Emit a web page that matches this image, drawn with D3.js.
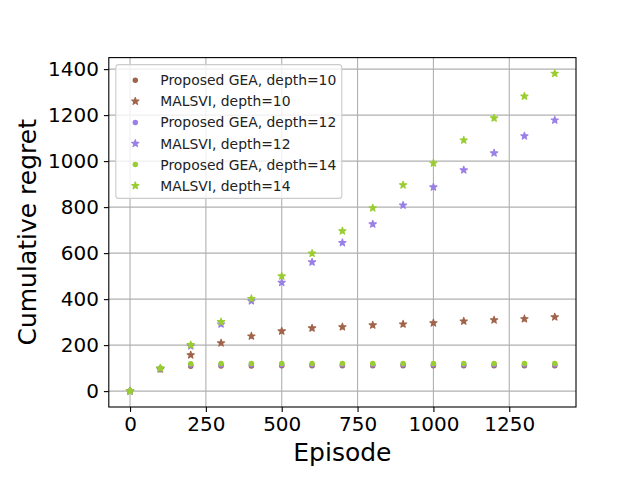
<!DOCTYPE html>
<html>
<head>
<meta charset="utf-8">
<script src="https://cdn.jsdelivr.net/npm/d3@7"></script>
<style>
  body { margin: 0; background: #fff; }
  text { font-family: "DejaVu Sans", sans-serif; }
</style>
</head>
<body>
<div id="chart"></div>
<script>
// datos
const episodes = [0, 100, 200, 300, 400, 500, 600, 700, 800, 900, 1000, 1100, 1200, 1300, 1400]
const geaDepth10 = [0, 93, 108, 109, 109, 110, 110, 110, 110, 110, 110, 110, 110, 110, 110]
const malsviDepth10 = [0, 96, 157, 209, 239, 261, 274, 279, 287, 291, 296, 304, 309, 314, 322]
const geaDepth12 = [0, 96, 114, 114, 115, 115, 115, 115, 115, 115, 115, 115, 115, 115, 115]
const malsviDepth12 = [0, 98, 196, 291, 392, 472, 561, 645, 726, 808, 887, 961, 1035, 1109, 1178]
const geaDepth14 = [0, 99, 119, 120, 120, 120, 120, 120, 120, 120, 120, 120, 120, 120, 120]
const malsviDepth14 = [0, 100, 201, 301, 402, 500, 599, 696, 796, 896, 991, 1091, 1187, 1282, 1381]
const seriesNames = [
  "Proposed GEA, depth=10", "MALSVI, depth=10",
  "Proposed GEA, depth=12", "MALSVI, depth=12",
  "Proposed GEA, depth=14", "MALSVI, depth=14"
]
const xTicks = [0, 250, 500, 750, 1000, 1250]
const yTicks = [0, 200, 400, 600, 800, 1000, 1200, 1400]

const series = [
  { name: seriesNames[0], values: geaDepth10, color: "#a0644a", marker: "dot" },
  { name: seriesNames[1], values: malsviDepth10, color: "#a0644a", marker: "star" },
  { name: seriesNames[2], values: geaDepth12, color: "#9a80e6", marker: "dot" },
  { name: seriesNames[3], values: malsviDepth12, color: "#9a80e6", marker: "star" },
  { name: seriesNames[4], values: geaDepth14, color: "#9acd32", marker: "dot" },
  { name: seriesNames[5], values: malsviDepth14, color: "#9acd32", marker: "star" }
]

const width = 640, height = 480
const plotLeft = 108.8, plotRight = 576, plotTop = 57.6, plotBottom = 407

const svg = d3.select("#chart")
  .append("svg")
  .attr("width", width)
  .attr("height", height)

// Escalas (margen 5% como matplotlib)
const xMin = d3.min(episodes), xMax = d3.max(episodes)
const allY = series.flatMap(s => s.values)
const yMin = d3.min(allY), yMax = d3.max(allY)
const x = d3.scaleLinear()
  .domain([xMin - (xMax - xMin) * 0.05, xMax + (xMax - xMin) * 0.05])
  .range([plotLeft, plotRight])
const y = d3.scaleLinear()
  .domain([yMin - (yMax - yMin) * 0.05, yMax + (yMax - yMin) * 0.05])
  .range([plotBottom, plotTop])

// grid
const grid = svg.append("g")
grid.selectAll("line.gx").data(xTicks).enter().append("line")
  .attr("x1", d => x(d)).attr("x2", d => x(d))
  .attr("y1", plotTop).attr("y2", plotBottom)
  .attr("stroke", "#b0b0b0").attr("stroke-width", 1.1)
grid.selectAll("line.gy").data(yTicks).enter().append("line")
  .attr("y1", d => y(d)).attr("y2", d => y(d))
  .attr("x1", plotLeft).attr("x2", plotRight)
  .attr("stroke", "#b0b0b0").attr("stroke-width", 1.1)

// ejes
const xAxis = svg.append("g")
  .attr("transform", `translate(0, ${plotBottom})`)
  .call(d3.axisBottom(x).tickValues(xTicks).tickSize(4.9).tickPadding(4.9).tickFormat(d3.format("d")))
const yAxis = svg.append("g")
  .attr("transform", `translate(${plotLeft}, 0)`)
  .call(d3.axisLeft(y).tickValues(yTicks).tickSize(4.9).tickPadding(4.9).tickFormat(d3.format("d")))
;[xAxis, yAxis].forEach(a => {
  a.select(".domain").remove()
  a.selectAll(".tick line").attr("stroke", "#000").attr("stroke-width", 1.1)
  a.selectAll(".tick text").attr("fill", "#000").style("font-size", "20px").style("font-family", "DejaVu Sans")
})

// marco
svg.append("rect")
  .attr("x", plotLeft).attr("y", plotTop)
  .attr("width", plotRight - plotLeft).attr("height", plotBottom - plotTop)
  .attr("fill", "none").attr("stroke", "#000").attr("stroke-width", 1.1)

// marcadores
const starPath = d3.symbol(d3.symbolStar, 16)
function drawMarker(g, s, cx, cy) {
  if (s.marker === "star") {
    g.append("path")
      .attr("d", starPath())
      .attr("transform", `translate(${cx}, ${cy})`)
      .attr("fill", s.color).attr("stroke", s.color).attr("stroke-width", 1.2)
      .attr("stroke-linejoin", "round")
  } else {
    g.append("circle")
      .attr("cx", cx).attr("cy", cy).attr("r", 2.1)
      .attr("fill", s.color).attr("stroke", s.color).attr("stroke-width", 1.3)
  }
}

const points = svg.append("g")
series.forEach(s => {
  const g = points.append("g")
  s.values.forEach((v, i) => drawMarker(g, s, x(episodes[i]), y(v)))
})

// leyenda
const legX = plotLeft + 7, legY = plotTop + 7
const rowH = 21.1
const legend = svg.append("g")
legend.append("rect")
  .attr("x", legX).attr("y", legY)
  .attr("width", 226).attr("height", 5.6 * 2 + rowH * series.length - 7 + 3)
  .attr("rx", 3)
  .attr("fill", "#fff").attr("fill-opacity", 0.8)
  .attr("stroke", "#cccccc").attr("stroke-width", 1.1)
series.forEach((s, i) => {
  const cy = legY + 5.6 + 8 + i * rowH + 2
  drawMarker(legend, s, legX + 5.6 + 13.9, cy)
  legend.append("text")
    .attr("x", legX + 5.6 + 27.8 + 11.1)
    .attr("y", cy + 5)
    .attr("fill", "#222")
    .style("font-size", "13.9px")
    .text(s.name)
})

// titulos
svg.append("text")
  .attr("x", (plotLeft + plotRight) / 2).attr("y", 461)
  .attr("text-anchor", "middle")
  .style("font-size", "25px")
  .text("Episode")
svg.append("text")
  .attr("transform", `translate(36, ${(plotTop + plotBottom) / 2}) rotate(-90)`)
  .attr("text-anchor", "middle")
  .style("font-size", "25px")
  .text("Cumulative regret")
</script>
</body>
</html>
